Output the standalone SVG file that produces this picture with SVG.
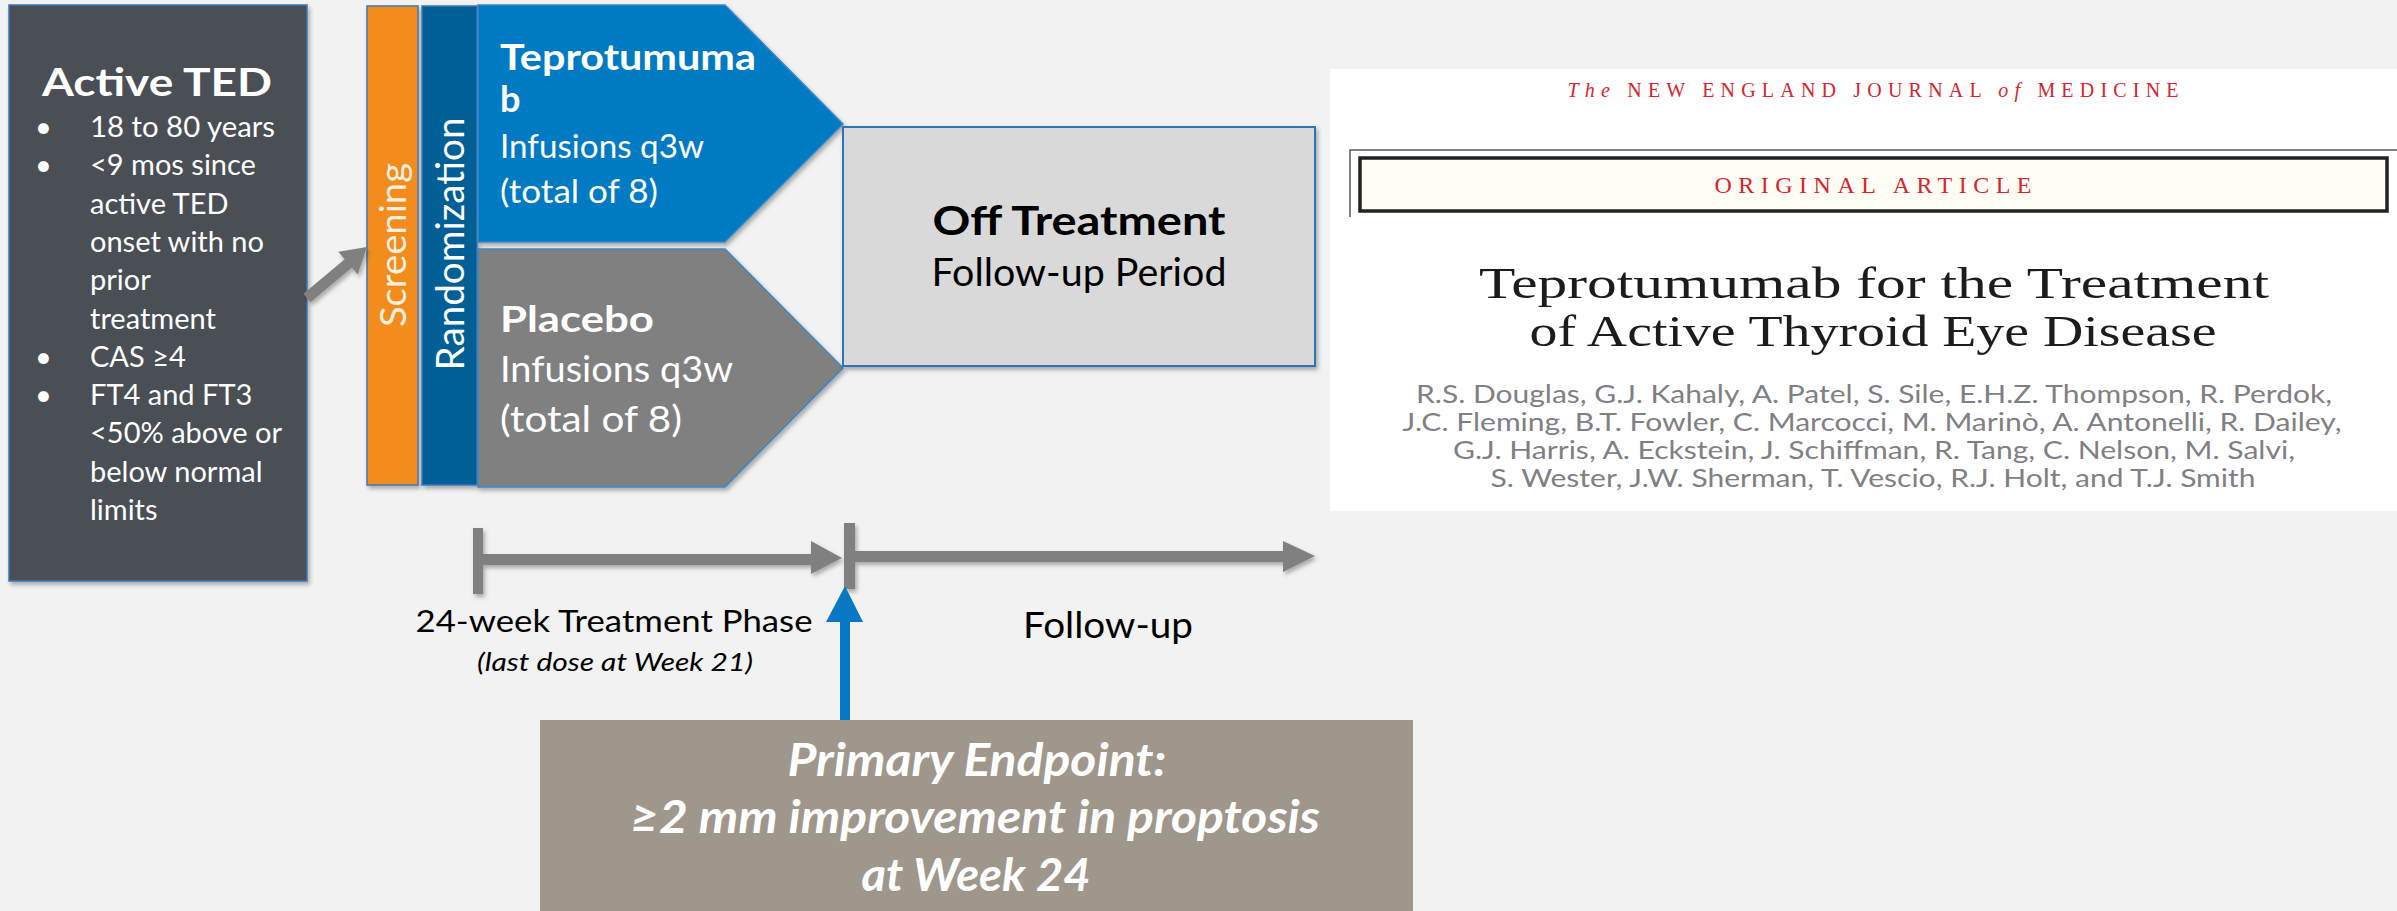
<svg xmlns="http://www.w3.org/2000/svg" width="2397" height="911" viewBox="0 0 2397 911">
<defs>
<filter id="sh" x="-10%" y="-10%" width="120%" height="120%">
<feDropShadow dx="2" dy="3" stdDeviation="2" flood-color="#000" flood-opacity="0.3"/>
</filter>
<style>
.s{font-family:Lato,"Open Sans","Liberation Sans",sans-serif}
.w{fill:#ffffff}
.b{font-weight:bold}
.k{fill:#000000}
.serif{font-family:"Liberation Serif","DejaVu Serif",serif}
.red{fill:#d9232e}
.au{font-family:Lato,"Open Sans","Liberation Sans",sans-serif;fill:#7f8084;font-size:25px}
.tl{fill:#808080}
</style>
</defs>
<rect x="0" y="0" width="2397" height="911" fill="#f2f2f2"/>

<g id="active-ted">
<rect x="9" y="5" width="298" height="576" fill="#495055" stroke="#3a78b8" stroke-width="1.5" filter="url(#sh)"/>
<text class="s w b" x="157" y="96" font-size="39" text-anchor="middle" textLength="230" lengthAdjust="spacingAndGlyphs">Active TED</text>
<g class="s w" font-size="29">
<text x="35" y="137">•</text><text x="90" y="137" textLength="185" lengthAdjust="spacingAndGlyphs">18 to 80 years</text>
<text x="35" y="175">•</text><text x="90" y="175">&lt;9 mos since</text>
<text x="90" y="214">active TED</text>
<text x="90" y="252">onset with no</text>
<text x="90" y="290">prior</text>
<text x="90" y="329">treatment</text>
<text x="35" y="367">•</text><text x="90" y="367">CAS ≥4</text>
<text x="35" y="405">•</text><text x="90" y="405">FT4 and FT3</text>
<text x="90" y="443">&lt;50% above or</text>
<text x="90" y="482">below normal</text>
<text x="90" y="520">limits</text>
</g>
</g>

<g id="screening">
<rect x="367" y="6" width="51" height="479" fill="#f28c1e" stroke="#3a78b8" stroke-width="1.5" filter="url(#sh)"/>
<text class="s" fill="#fdf0e0" transform="translate(406,245) rotate(-90)" font-size="36" text-anchor="middle" textLength="164" lengthAdjust="spacingAndGlyphs">Screening</text>
</g>

<g id="randomization">
<rect x="422" y="6" width="55" height="479" fill="#025f94" stroke="#3a78b8" stroke-width="1.5" filter="url(#sh)"/>
<text class="s w" transform="translate(464,244) rotate(-90)" font-size="38" text-anchor="middle" textLength="253" lengthAdjust="spacingAndGlyphs">Randomization</text>
</g>

<g id="teprotumumab">
<polygon points="478,5 725,5 843,124 725,242 478,242" fill="#037ac2" stroke="#3a88c8" stroke-width="1.5" filter="url(#sh)"/>
<text class="s w b" x="500" y="70" font-size="36" textLength="256" lengthAdjust="spacingAndGlyphs">Teprotumuma</text>
<text class="s w b" x="500" y="112" font-size="36">b</text>
<text class="s w" x="500" y="158" font-size="33" textLength="204" lengthAdjust="spacingAndGlyphs">Infusions q3w</text>
<text class="s w" x="500" y="203" font-size="33" textLength="158" lengthAdjust="spacingAndGlyphs">(total of 8)</text>
</g>

<g id="placebo">
<polygon points="478,249 725,249 843,368 725,487 478,487" fill="#808080" stroke="#3a88c8" stroke-width="1.5" filter="url(#sh)"/>
<text class="s w b" x="500" y="332" font-size="37" textLength="154" lengthAdjust="spacingAndGlyphs">Placebo</text>
<text class="s w" x="500" y="382" font-size="36" textLength="233" lengthAdjust="spacingAndGlyphs">Infusions q3w</text>
<text class="s w" x="500" y="432" font-size="36" textLength="182" lengthAdjust="spacingAndGlyphs">(total of 8)</text>
</g>

<g id="off-treatment">
<rect x="843" y="127" width="472" height="239" fill="#d9d9d9" stroke="#2e75b6" stroke-width="2" filter="url(#sh)"/>
<text class="s k b" x="1079" y="235" font-size="40" text-anchor="middle" textLength="293" lengthAdjust="spacingAndGlyphs">Off Treatment</text>
<text class="s k" x="1079" y="286" font-size="38" text-anchor="middle" textLength="295" lengthAdjust="spacingAndGlyphs">Follow-up Period</text>
</g>

<g id="connectors">
<g filter="url(#sh)">
<line x1="307" y1="298" x2="350" y2="262" stroke="#808080" stroke-width="11"/>
<polygon points="367,247 357.7,274.6 338.3,251.8" fill="#808080"/>
<rect class="tl" x="473" y="528" width="10" height="66"/>
<rect class="tl" x="483" y="554" width="330" height="11"/>
<polygon class="tl" points="811,541 842,558 811,574"/>
<rect class="tl" x="844" y="523" width="11" height="66"/>
<rect class="tl" x="855" y="551" width="430" height="11"/>
<polygon class="tl" points="1283,541 1315,556 1283,572"/>
</g>
<rect x="840" y="620" width="10" height="100" fill="#0878c4"/>
<polygon points="826,622 845,586 863,622" fill="#0878c4"/>
</g>

<g id="timeline-labels">
<text class="s k" x="614" y="632" font-size="31" text-anchor="middle" textLength="397" lengthAdjust="spacingAndGlyphs">24-week Treatment Phase</text>
<text class="s k" x="615" y="671" font-size="26" font-style="italic" text-anchor="middle" textLength="276" lengthAdjust="spacingAndGlyphs">(last dose at Week 21)</text>
<text class="s k" x="1108" y="638" font-size="37" text-anchor="middle" textLength="170" lengthAdjust="spacingAndGlyphs">Follow-up</text>
</g>

<g id="primary-endpoint">
<rect x="540" y="720" width="873" height="191" fill="#a0978c"/>
<g class="s w b" font-style="italic" font-size="46" text-anchor="middle">
<text x="977" y="776" textLength="379" lengthAdjust="spacingAndGlyphs">Primary Endpoint:</text>
<text x="975" y="833" textLength="690" lengthAdjust="spacingAndGlyphs">≥2 mm improvement in proptosis</text>
<text x="976" y="891" textLength="229" lengthAdjust="spacingAndGlyphs">at Week 24</text>
</g>
</g>

<g id="nejm-article">
<rect x="1330" y="69" width="1067" height="442" fill="#ffffff"/>
<text class="serif red" x="1873" y="97" font-size="20" text-anchor="middle" textLength="611" lengthAdjust="spacing"><tspan font-style="italic">The</tspan> NEW ENGLAND JOURNAL <tspan font-style="italic">of</tspan> MEDICINE</text>
<polyline points="1350,217 1350,150 2397,150" fill="none" stroke="#555555" stroke-width="1.5"/>
<rect x="1360" y="158" width="1027" height="53" fill="#fffdf4" stroke="#222222" stroke-width="3.5"/>
<text class="serif red" x="1873" y="193" font-size="24" text-anchor="middle" textLength="317" lengthAdjust="spacing">ORIGINAL ARTICLE</text>
<text class="serif" fill="#1c1c1c" x="1874" y="298" font-size="45" text-anchor="middle" textLength="790" lengthAdjust="spacingAndGlyphs">Teprotumumab for the Treatment</text>
<text class="serif" fill="#1c1c1c" x="1873" y="346" font-size="45" text-anchor="middle" textLength="687" lengthAdjust="spacingAndGlyphs">of Active Thyroid Eye Disease</text>
<text class="au" x="1874" y="403" text-anchor="middle" textLength="916" lengthAdjust="spacingAndGlyphs">R.S. Douglas, G.J. Kahaly, A. Patel, S. Sile, E.H.Z. Thompson, R. Perdok,</text>
<text class="au" x="1872" y="431" text-anchor="middle" textLength="939" lengthAdjust="spacingAndGlyphs">J.C. Fleming, B.T. Fowler, C. Marcocci, M. Marinò, A. Antonelli, R. Dailey,</text>
<text class="au" x="1874" y="459" text-anchor="middle" textLength="842" lengthAdjust="spacingAndGlyphs">G.J. Harris, A. Eckstein, J. Schiffman, R. Tang, C. Nelson, M. Salvi,</text>
<text class="au" x="1873" y="487" text-anchor="middle" textLength="765" lengthAdjust="spacingAndGlyphs">S. Wester, J.W. Sherman, T. Vescio, R.J. Holt, and T.J. Smith</text>
</g>
</svg>
